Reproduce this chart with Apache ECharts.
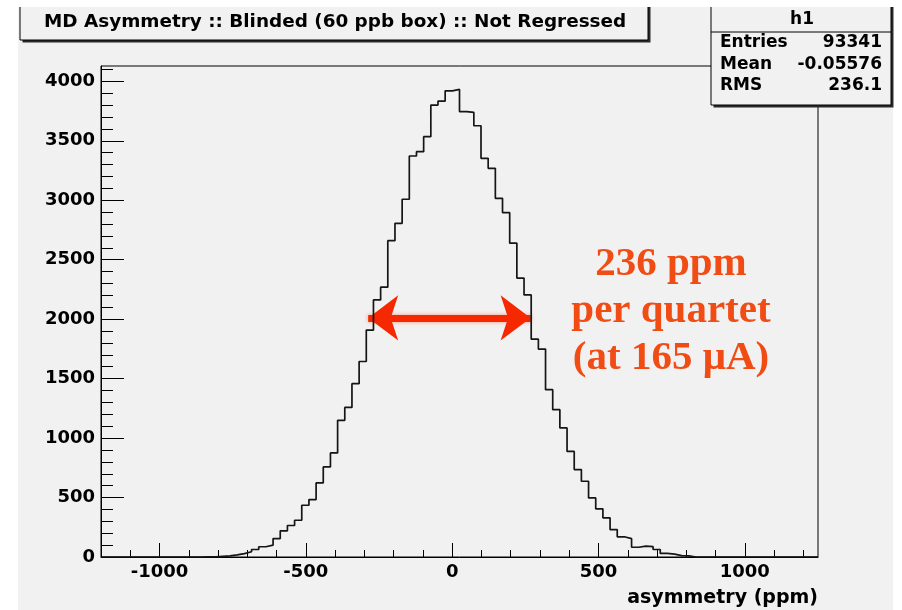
<!DOCTYPE html>
<html>
<head>
<meta charset="utf-8">
<script src="https://cdn.jsdelivr.net/npm/echarts@6/dist/echarts.min.js"></script>
<style>
  html, body { margin: 0; padding: 0; background: #ffffff; }
  #chart { width: 902px; height: 610px; }
</style>
</head>
<body>
<div id="chart"></div>
<script>
// Histogram h1: asymmetry (ppm), 100 equal bins over [histMin, histMax)
const histMin = -1200;
const histMax = 1250;
const counts = [
  0, 0, 0, 0, 0, 0, 0, 0, 0, 0,
  0, 0, 0, 0, 1, 1, 6, 10, 18, 29,
  44, 63, 86, 100, 155, 220, 265, 309, 435, 483,
  623, 757, 875, 1149, 1258, 1457, 1644, 1908, 2162, 2269,
  2660, 2806, 3008, 3372, 3408, 3534, 3800, 3834, 3920, 3932,
  3745, 3738, 3626, 3352, 3268, 3016, 2896, 2639, 2345, 2204,
  1832, 1748, 1407, 1239, 1085, 888, 735, 637, 497, 405,
  329, 231, 170, 155, 82, 92, 87, 63, 30, 24,
  12, 10, 0, 0, 0, 0, 0, 0, 0, 0,
  0, 0, 0, 0, 0, 0, 0, 0, 0, 0
];

// Axis tick values
const xMajorTicks = [-1000, -500, 0, 500, 1000];
const xMinorTicks = [-1100, -900, -800, -700, -600, -400, -300, -200, -100,
                     100, 200, 300, 400, 600, 700, 800, 900, 1100, 1200];
const yMajorTicks = [0, 500, 1000, 1500, 2000, 2500, 3000, 3500, 4000];
const yMinorTicks = [100, 200, 300, 400, 600, 700, 800, 900, 1100, 1200, 1300, 1400,
                     1600, 1700, 1800, 1900, 2100, 2200, 2300, 2400, 2600, 2700, 2800, 2900,
                     3100, 3200, 3300, 3400, 3600, 3700, 3800, 3900, 4100];

// Texts
const titleText = 'MD Asymmetry :: Blinded (60 ppb box) :: Not Regressed';
const xAxisTitle = 'asymmetry (ppm)';
const statsName = 'h1';
const statsLabels = ['Entries', 'Mean', 'RMS'];
const statsValues = ['93341', '-0.05576', '236.1'];
const noteLines = ['236 ppm', 'per quartet', '(at 165 \u03BCA)'];

// Width marker drawn across the distribution
const arrowEnds = [-287, 268];
const arrowLevel = 2010;

const binWidth = (histMax - histMin) / counts.length;
const yMax = Math.max(...counts) * 1.05;

// Step outline: each point opens a bin, the last one closes the range
const stepData = counts.map((c, i) => [histMin + i * binWidth, c]);
stepData.push([histMax, counts[counts.length - 1]]);

const axisFont = { fontFamily: 'DejaVu Sans', fontWeight: 'bold', fontSize: 18, color: '#000' };
const plainNumber = v => String(v);
const canvasGrey = '#f1f1f1';

const chart = echarts.init(document.getElementById('chart'), null, { renderer: 'canvas' });

const statsRowY = [43, 65, 86];
const statsGraphics = [];
statsLabels.forEach((lab, i) => {
  statsGraphics.push({
    type: 'text', x: 720, y: statsRowY[i], z: 21,
    style: { text: lab, font: 'bold 17px "DejaVu Sans"', fill: '#000',
             textAlign: 'left', textVerticalAlign: 'middle' }
  });
  statsGraphics.push({
    type: 'text', x: 882, y: statsRowY[i], z: 21,
    style: { text: statsValues[i], font: 'bold 17px "DejaVu Sans"', fill: '#000',
             textAlign: 'right', textVerticalAlign: 'middle' }
  });
});

chart.setOption({
  animation: false,
  backgroundColor: '#ffffff',
  grid: {
    left: 101, right: 84, top: 66, bottom: 53,
    show: true, borderColor: '#000', borderWidth: 1, backgroundColor: 'transparent',
    containLabel: false
  },
  xAxis: [
    {
      type: 'value', min: histMin, max: histMax, position: 'bottom',
      axisLine: { show: true, onZero: false, lineStyle: { color: '#000', width: 1 } },
      axisTick: { show: true, inside: true, length: 14, customValues: xMajorTicks,
                  lineStyle: { color: '#000', width: 1 } },
      axisLabel: Object.assign({ show: true, margin: 6, customValues: xMajorTicks,
                                 formatter: plainNumber }, axisFont),
      splitLine: { show: false },
      name: xAxisTitle, nameLocation: 'end', nameGap: 0,
      nameTextStyle: Object.assign({ align: 'right', verticalAlign: 'top', padding: [32, 0, 0, 0] },
                                   axisFont, { fontSize: 19 })
    },
    {
      type: 'value', min: histMin, max: histMax, position: 'bottom', offset: 0,
      axisLine: { show: false, onZero: false },
      axisTick: { show: true, inside: true, length: 7, customValues: xMinorTicks,
                  lineStyle: { color: '#000', width: 1 } },
      axisLabel: { show: false },
      splitLine: { show: false }
    }
  ],
  yAxis: [
    {
      type: 'value', min: 0, max: yMax, position: 'left',
      axisLine: { show: true, onZero: false, lineStyle: { color: '#000', width: 1 } },
      axisTick: { show: true, inside: true, length: 23, customValues: yMajorTicks,
                  lineStyle: { color: '#000', width: 1 } },
      axisLabel: Object.assign({ show: true, margin: 6, customValues: yMajorTicks,
                                 formatter: plainNumber }, axisFont),
      splitLine: { show: false }
    },
    {
      type: 'value', min: 0, max: yMax, position: 'left', offset: 0,
      axisLine: { show: false, onZero: false },
      axisTick: { show: true, inside: true, length: 12, customValues: yMinorTicks,
                  lineStyle: { color: '#000', width: 1 } },
      axisLabel: { show: false },
      splitLine: { show: false }
    }
  ],
  series: [
    {
      type: 'line',
      xAxisIndex: 0, yAxisIndex: 0,
      step: 'end',
      data: stepData,
      showSymbol: false,
      silent: true,
      lineStyle: { color: '#151515', width: 1.7 },
      z: 5,
      markLine: {
        silent: true,
        symbol: ['arrow', 'arrow'],
        symbolSize: [34, 30],
        label: { show: false },
        lineStyle: { color: '#f52800', width: 7, type: 'solid',
                     shadowBlur: 4, shadowColor: 'rgba(255,90,60,0.6)' },
        data: [[{ coord: [arrowEnds[0], arrowLevel] }, { coord: [arrowEnds[1], arrowLevel] }]]
      }
    }
  ],
  graphic: [
    // canvas
    { type: 'rect', z: -10, shape: { x: 18, y: 7, width: 875, height: 603 }, style: { fill: canvasGrey } },
    // title box with drop shadow
    { type: 'rect', z: 18, shape: { x: 22.5, y: -10, width: 628, height: 52.5 }, style: { fill: '#2a2a2a' } },
    { type: 'rect', z: 19, shape: { x: 20, y: -10, width: 628, height: 50 },
      style: { fill: canvasGrey, stroke: '#000', lineWidth: 1 } },
    { type: 'text', z: 20, x: 44, y: 22,
      style: { text: titleText, font: 'bold 18.4px "DejaVu Sans"', fill: '#000',
               textAlign: 'left', textVerticalAlign: 'middle' } },
    // statistics box with drop shadow
    { type: 'rect', z: 18, shape: { x: 713.5, y: -10, width: 180, height: 117.5 }, style: { fill: '#2a2a2a' } },
    { type: 'rect', z: 19, shape: { x: 711, y: -10, width: 180, height: 115 },
      style: { fill: canvasGrey, stroke: '#000', lineWidth: 1 } },
    { type: 'line', z: 20, shape: { x1: 711, y1: 32, x2: 891, y2: 32 }, style: { stroke: '#000', lineWidth: 1 } },
    { type: 'text', z: 21, x: 802, y: 20,
      style: { text: statsName, font: 'bold 17px "DejaVu Sans"', fill: '#000',
               textAlign: 'center', textVerticalAlign: 'middle' } },
    ...statsGraphics,
    // annotation
    { type: 'text', z: 22, x: 671, y: 311,
      style: { text: noteLines.join('\n'), font: 'bold 41px "Liberation Serif"', lineHeight: 47,
               fill: '#f04c14', textAlign: 'center', textVerticalAlign: 'middle' } },
    // page margins outside the canvas
    { type: 'rect', z: 50, shape: { x: 0, y: 0, width: 902, height: 7 }, style: { fill: '#ffffff' } },
    { type: 'rect', z: 50, shape: { x: 0, y: 0, width: 18, height: 610 }, style: { fill: '#ffffff' } },
    { type: 'rect', z: 50, shape: { x: 895, y: 0, width: 7, height: 610 }, style: { fill: '#ffffff' } }
  ]
});
</script>
</body>
</html>
